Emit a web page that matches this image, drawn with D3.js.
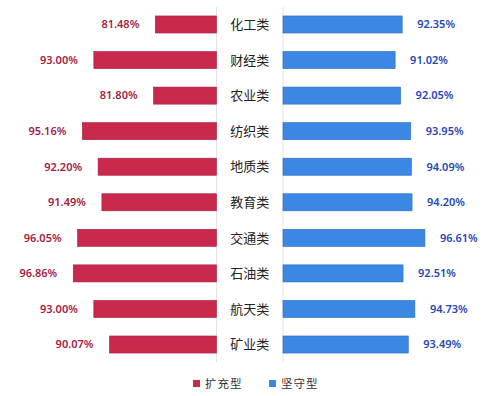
<!DOCTYPE html>
<html>
<head>
<meta charset="utf-8">
<script src="https://cdn.jsdelivr.net/npm/d3@7"></script>
<style>
  body { margin: 0; background: #fff; }
  svg text { font-family: "Noto Sans", "Noto Sans CJK SC", sans-serif; }
</style>
</head>
<body>
<div id="chart"></div>
<script>
const categories = ["化工类", "财经类", "农业类", "纺织类", "地质类", "教育类", "交通类", "石油类", "航天类", "矿业类"];
const expandValues = [81.48, 93.00, 81.80, 95.16, 92.20, 91.49, 96.05, 96.86, 93.00, 90.07];
const steadyValues = [92.35, 91.02, 92.05, 93.95, 94.09, 94.20, 96.61, 92.51, 94.73, 93.49];
const seriesNames = ["扩充型", "坚守型"];

const width = 500, height = 396;
const leftAxisX = 216.5, rightAxisX = 283;

let svg = d3.select("#chart")
    .append("svg")
    .attr("width", width)
    .attr("height", height);

let y = d3.scaleBand()
    .domain(categories)
    .range([6.7, 362.3])
    .paddingInner(0.52)
    .paddingOuter(0.26);

// both sides share the same scale, starting at 70%
let x = d3.scaleLinear()
    .domain([70, 100])
    .range([0, 160]);

const red = "#c9294d", blue = "#3a87e4";

// light axis lines
svg.selectAll("line.axis")
    .data([leftAxisX, rightAxisX])
    .enter()
    .append("line")
    .attr("x1", d => d)
    .attr("x2", d => d)
    .attr("y1", 7)
    .attr("y2", 362)
    .attr("stroke", "#e2e2e2")
    .attr("stroke-width", 1);

// left bars (扩充型)
svg.selectAll("rect.left")
    .data(expandValues)
    .enter()
    .append("rect")
    .attr("x", d => leftAxisX - x(d))
    .attr("y", (d, i) => y(categories[i]))
    .attr("width", d => x(d))
    .attr("height", y.bandwidth())
    .attr("fill", red)
    .attr("stroke", "#a9203f")
    .attr("stroke-width", 0.6);

svg.selectAll("text.leftval")
    .data(expandValues)
    .enter()
    .append("text")
    .attr("x", d => leftAxisX - x(d) - 16)
    .attr("y", (d, i) => y(categories[i]) + y.bandwidth() / 2)
    .attr("dy", "0.35em")
    .style("text-anchor", "end")
    .style("font-size", "11px")
    .style("font-weight", 600)
    .attr("fill", "#a3213f")
    .text(d => d.toFixed(2) + "%");

// right bars (坚守型)
svg.selectAll("rect.right")
    .data(steadyValues)
    .enter()
    .append("rect")
    .attr("x", rightAxisX)
    .attr("y", (d, i) => y(categories[i]))
    .attr("width", d => x(d))
    .attr("height", y.bandwidth())
    .attr("fill", blue)
    .attr("stroke", "#2c6cc0")
    .attr("stroke-width", 0.6);

svg.selectAll("text.rightval")
    .data(steadyValues)
    .enter()
    .append("text")
    .attr("x", d => rightAxisX + x(d) + 15)
    .attr("y", (d, i) => y(categories[i]) + y.bandwidth() / 2)
    .attr("dy", "0.35em")
    .style("text-anchor", "start")
    .style("font-size", "11px")
    .style("font-weight", 600)
    .attr("fill", "#2448b5")
    .text(d => d.toFixed(2) + "%");

// category names in the middle
svg.selectAll("text.cat")
    .data(categories)
    .enter()
    .append("text")
    .attr("x", (leftAxisX + rightAxisX) / 2)
    .attr("y", d => y(d) + y.bandwidth() / 2)
    .attr("dy", "0.36em")
    .style("text-anchor", "middle")
    .style("font-size", "13px")
    .attr("fill", "#222")
    .text(d => d);

// legend
let legend = svg.append("g");
const legendX = [193, 269];
seriesNames.forEach(function(name, i) {
    legend.append("rect")
        .attr("x", legendX[i])
        .attr("y", 380)
        .attr("width", 7)
        .attr("height", 7)
        .attr("fill", i == 0 ? red : blue);
    legend.append("text")
        .attr("x", legendX[i] + 12)
        .attr("y", 384)
        .attr("dy", "0.35em")
        .style("font-size", "11.5px")
        .style("letter-spacing", "1px")
        .attr("fill", "#333")
        .text(name);
});
</script>
</body>
</html>
